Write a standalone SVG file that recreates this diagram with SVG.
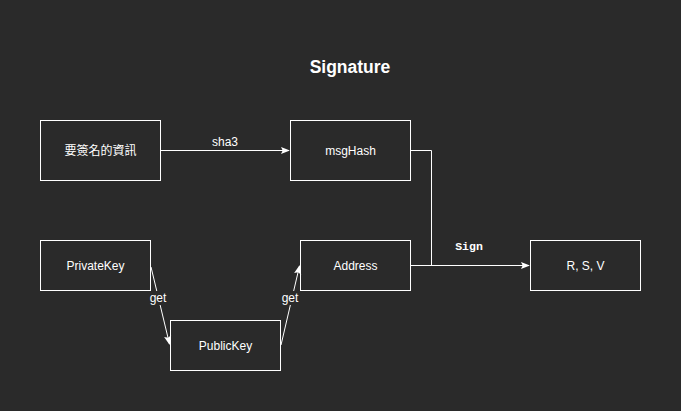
<svg xmlns="http://www.w3.org/2000/svg" width="681" height="411" viewBox="0 0 681 411">
<style>
.box{fill:none;stroke:#ffffff;stroke-width:1}
.t{font-family:"Liberation Sans",Arial,"Noto Sans CJK TC",sans-serif;font-size:12px;fill:#ffffff;text-anchor:middle;dominant-baseline:central}
.c{fill:none;stroke:#ffffff;stroke-width:1}
.lbl{font-family:"Liberation Sans",Arial,sans-serif;font-size:12px;fill:#ffffff;text-anchor:middle;dominant-baseline:central}
.lblbg{fill:#2a2a2a}
</style>
<defs>
<marker id="ah" viewBox="0 0 10 10" refX="9" refY="5" markerWidth="9" markerHeight="9" markerUnits="userSpaceOnUse" orient="auto">
<path d="M0,1 L10,5 L0,9 L2,5 Z" fill="#ffffff"/>
</marker>
</defs>
<rect width="681" height="411" fill="#2a2a2a"/>
<text x="350" y="67" font-family="Liberation Sans,Arial,sans-serif" font-size="17.5" font-weight="bold" fill="#ffffff" text-anchor="middle" dominant-baseline="central">Signature</text>
<g id="connectors">
<path class="c" d="M160,150.5 L289,150.5" marker-end="url(#ah)"/>
<text class="lbl" x="225" y="142">sha3</text>
<path class="c" d="M410,150.5 L431.5,150.5 L431.5,265.5"/>
<path class="c" d="M410,265.5 L529,265.5" marker-end="url(#ah)"/>
<text x="469" y="246" font-family="Liberation Mono,Courier New,monospace" font-size="11.5" font-weight="bold" fill="#ffffff" text-anchor="middle" dominant-baseline="central">Sign</text>
<path class="c" d="M151,267 L169.5,344" marker-end="url(#ah)"/>
<rect class="lblbg" x="150" y="291" width="17" height="14"/>
<text class="lbl" x="158" y="298">get</text>
<path class="c" d="M281,345 L299.5,266" marker-end="url(#ah)"/>
<rect class="lblbg" x="281" y="291" width="18" height="14"/>
<text class="lbl" x="290" y="298">get</text>
</g>
<g id="node-msg"><rect class="box" x="40.5" y="120.5" width="120" height="60"/><text class="t" x="100.5" y="150.5">要簽名的資訊</text></g>
<g id="node-msgHash"><rect class="box" x="290.5" y="120.5" width="120" height="60"/><text class="t" x="350.5" y="150.5">msgHash</text></g>
<g id="node-PrivateKey"><rect class="box" x="40.5" y="240.5" width="110" height="50"/><text class="t" x="95.5" y="265.5">PrivateKey</text></g>
<g id="node-Address"><rect class="box" x="300.5" y="240.5" width="110" height="50"/><text class="t" x="355.5" y="265.5">Address</text></g>
<g id="node-PublicKey"><rect class="box" x="170.5" y="320.5" width="110" height="50"/><text class="t" x="225.5" y="345.5">PublicKey</text></g>
<g id="node-RSV"><rect class="box" x="530.5" y="240.5" width="110" height="50"/><text class="t" x="585.5" y="265.5">R, S, V</text></g>
</svg>
